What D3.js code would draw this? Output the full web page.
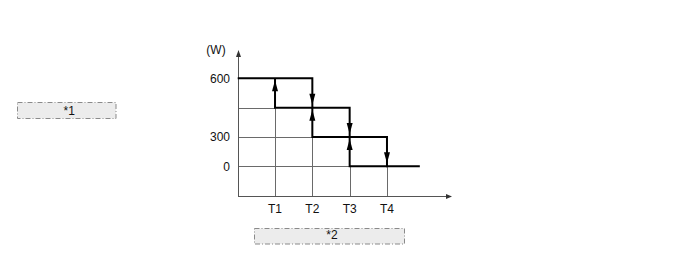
<!DOCTYPE html>
<html>
<head>
<meta charset="utf-8">
<script src="https://cdn.jsdelivr.net/npm/d3@7"></script>
<style>
  html, body { margin: 0; padding: 0; background: #fff; }
  svg text { font-family: "Liberation Sans", Arial, sans-serif; }
</style>
</head>
<body>
<svg id="chart" width="688" height="269"></svg>
<script>
/*
Data
*/

// power levels, top to bottom (450 has no label)
const levels      = [600, 450, 300, 0];
const levelLabels = ["600", "", "300", "0"];

// time marks
const times = ["T1", "T2", "T3", "T4"];

// upper step line: power drops at T2, T3, T4 (x in time index units)
const upperSteps = [
  { t: 0,    w: 600 },
  { t: 2,    w: 450 },
  { t: 3,    w: 300 },
  { t: 4,    w: 0 },
  { t: 4.88, w: 0 }
];

// lower step line: power rises at T1, T2, T3
const lowerSteps = [
  { t: 1, w: 600 },
  { t: 1, w: 450 },
  { t: 2, w: 300 },
  { t: 3, w: 0 },
  { t: 4, w: 0 }
];

// arrows on the vertical edges
const downArrows = [
  { t: 2, w: 450 },
  { t: 3, w: 300 },
  { t: 4, w: 0 }
];
const upArrows = [
  { t: 1, w: 600 },
  { t: 2, w: 450 },
  { t: 3, w: 300 }
];

const notes = ["*1", "*2"];

/*
Scales
*/

const svg = d3.select("#chart");

const x = d3.scaleLinear()
  .domain([0, 5])
  .range([237.7, 424.3]);

const y = d3.scalePoint()
  .domain(levels)
  .range([78.3, 166.3]);

const axisY = 195.7;

/*
Thin grid lines
*/

const allSteps = upperSteps.concat(lowerSteps);

const grid = svg.append("g")
  .attr("stroke", "#6a6a6a")
  .attr("stroke-width", 1)
  .attr("shape-rendering", "crispEdges");

// horizontal: from the y axis to the first thick point on that level
grid.selectAll("line.h")
  .data(levels.filter(l => l !== 600))
  .enter()
  .append("line")
  .attr("x1", x(0))
  .attr("x2", l => x(d3.min(allSteps.filter(s => s.w === l), s => s.t)))
  .attr("y1", l => Math.round(y(l)) + 0.5)
  .attr("y2", l => Math.round(y(l)) + 0.5);

// vertical: from the lowest thick point at each time down to the x axis
grid.selectAll("line.v")
  .data(times)
  .enter()
  .append("line")
  .attr("x1", (d, i) => Math.round(x(i + 1)) + 0.5)
  .attr("x2", (d, i) => Math.round(x(i + 1)) + 0.5)
  .attr("y1", (d, i) => y(d3.min(allSteps.filter(s => s.t === i + 1), s => s.w)))
  .attr("y2", axisY);

/*
Axes
*/

const axes = svg.append("g")
  .attr("stroke", "#555")
  .attr("stroke-width", 1)
  .attr("shape-rendering", "crispEdges");

axes.append("line")
  .attr("x1", Math.round(x(0)) + 0.5).attr("x2", Math.round(x(0)) + 0.5)
  .attr("y1", axisY).attr("y2", 56);

axes.append("line")
  .attr("x1", x(0)).attr("x2", 447)
  .attr("y1", Math.round(axisY) + 0.5).attr("y2", Math.round(axisY) + 0.5);

svg.append("path")
  .attr("d", `M${Math.round(x(0)) + 0.5},50 l-2.5,7 l5,0 z`)
  .attr("fill", "#333");

svg.append("path")
  .attr("d", `M452,${Math.round(axisY) + 0.5} l-6,-2.5 l0,5 z`)
  .attr("fill", "#333");

/*
Step lines
*/

const line = d3.line()
  .x(d => x(d.t))
  .y(d => y(d.w))
  .curve(d3.curveStepAfter);

svg.selectAll("path.step")
  .data([upperSteps, lowerSteps])
  .enter()
  .append("path")
  .classed("step", true)
  .attr("d", line)
  .attr("fill", "none")
  .attr("stroke", "#000")
  .attr("stroke-width", 2);

/*
Arrow heads
*/

const headLen = 11, headHalf = 3;

svg.selectAll("path.down")
  .data(downArrows)
  .enter()
  .append("path")
  .attr("d", d => {
    const tx = x(d.t), ty = y(d.w) - 3;
    return `M${tx},${ty} L${tx - headHalf},${ty - headLen} L${tx + headHalf},${ty - headLen} Z`;
  })
  .attr("fill", "#000");

svg.selectAll("path.up")
  .data(upArrows)
  .enter()
  .append("path")
  .attr("d", d => {
    const tx = x(d.t), ty = y(d.w) + 2;
    return `M${tx},${ty} L${tx - headHalf},${ty + headLen} L${tx + headHalf},${ty + headLen} Z`;
  })
  .attr("fill", "#000");

/*
Labels
*/

svg.selectAll("text.level")
  .data(levels)
  .enter()
  .append("text")
  .attr("x", 230)
  .attr("y", l => y(l) + 4.3)
  .attr("text-anchor", "end")
  .attr("font-size", 12)
  .attr("fill", "#111")
  .text((l, i) => levelLabels[i]);

svg.selectAll("text.time")
  .data(times)
  .enter()
  .append("text")
  .attr("x", (d, i) => x(i + 1))
  .attr("y", 212.5)
  .attr("text-anchor", "middle")
  .attr("font-size", 12)
  .attr("fill", "#111")
  .text(d => d);

svg.append("text")
  .attr("x", 216)
  .attr("y", 54)
  .attr("text-anchor", "middle")
  .attr("font-size", 12)
  .attr("fill", "#111")
  .text("(W)");

/*
Note boxes
*/

const boxes = [
  { x: 17.5, y: 102.5, w: 98.5, h: 16, base: 12.6 },
  { x: 254.5, y: 228.5, w: 150, h: 15.5, base: 10.8 }
];

const note = svg.selectAll("g.note")
  .data(notes)
  .enter()
  .append("g")
  .attr("transform", (d, i) => `translate(${boxes[i].x},${boxes[i].y})`);

note.append("rect")
  .attr("width", (d, i) => boxes[i].w)
  .attr("height", (d, i) => boxes[i].h)
  .attr("fill", "#ececec")
  .attr("stroke", "#8a8a8a")
  .attr("stroke-width", 1)
  .attr("stroke-dasharray", "5,2,1,2");

note.append("text")
  .attr("x", (d, i) => boxes[i].w / 2 + 2.5)
  .attr("y", (d, i) => boxes[i].base)
  .attr("text-anchor", "middle")
  .attr("font-size", 12)
  .attr("fill", "#111")
  .text(d => d);
</script>
</body>
</html>
